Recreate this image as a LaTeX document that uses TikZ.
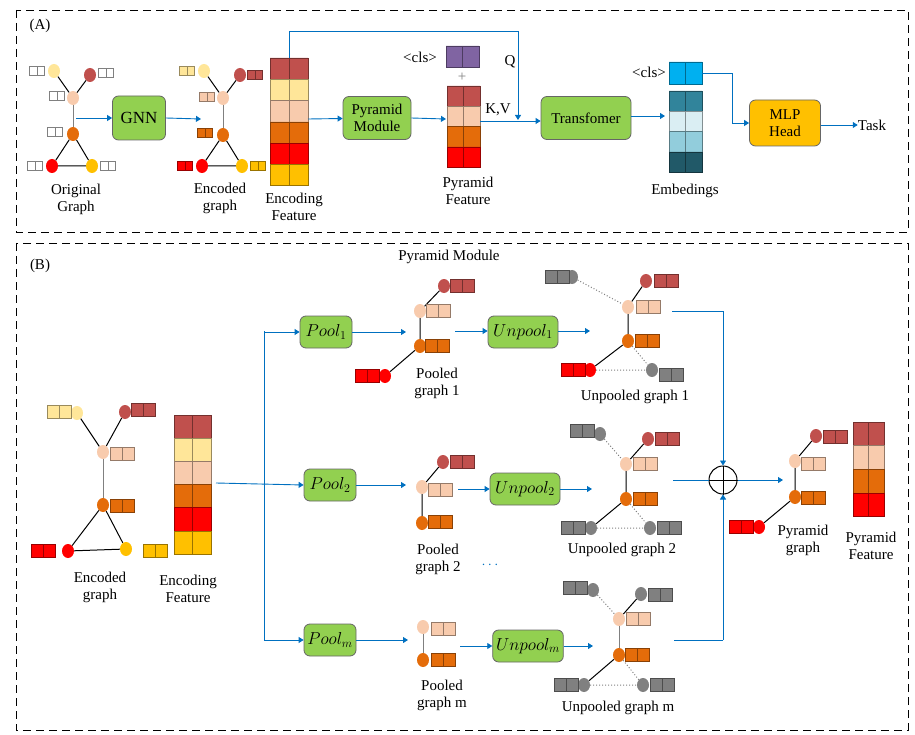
\documentclass[tikz,border=0pt]{standalone}
\usepackage{fontspec}
\setmainfont{Liberation Serif}
\usetikzlibrary{shapes.geometric,arrows.meta}
\definecolor{brk}{HTML}{C0504D}
\definecolor{lyl}{HTML}{FFE699}
\definecolor{pch}{HTML}{F8CBAD}
\definecolor{org}{HTML}{E46C0A}
\definecolor{rd}{HTML}{FF0000}
\definecolor{gld}{HTML}{FFC000}
\definecolor{gry}{HTML}{808080}
\definecolor{pur}{HTML}{8064A2}
\definecolor{cyn}{HTML}{00B0F0}
\definecolor{t1}{HTML}{31849B}
\definecolor{t2}{HTML}{DAEEF3}
\definecolor{t3}{HTML}{92CDDC}
\definecolor{t4}{HTML}{215968}
\definecolor{grn}{HTML}{92D050}
\definecolor{blu}{HTML}{0070C0}
\def\cw{7.5}\def\ch{4.5}
\newcommand\prr[3]{\begin{scope}[shift={(#1,#2)}]\filldraw[fill=#3,draw=#3!60!black,line width=0.8pt] (-\cw,-\ch) rectangle (0,\ch) (0,-\ch) rectangle (\cw,\ch);\end{scope}}
\newcommand\pre[2]{\begin{scope}[shift={(#1,#2)}]\filldraw[fill=white,draw=gray,line width=0.8pt] (-\cw,-\ch) rectangle (0,\ch) (0,-\ch) rectangle (\cw,\ch);\end{scope}}
\newcommand\fcol[5]{\foreach \c [count=\i from 0] in {#5}{\filldraw[fill=\c,draw=\c!60!black,line width=0.7pt] (#1,#2+\i*#4) rectangle ++(#3/2,#4) (#1+#3/2,#2+\i*#4) rectangle ++(#3/2,#4);}}
\begin{document}
\begin{tikzpicture}[x=1pt,y=-1pt,font=\fontsize{15}{17}\selectfont,
 vtx/.style={ellipse,minimum width=12pt,minimum height=14pt,inner sep=0pt,fill=#1},
 box/.style={draw=black!60,rounded corners=6pt,fill=grn,align=center,line width=0.8pt},
 arr/.style={-{Triangle[width=6pt,length=5pt]},blu,line width=0.9pt},
 ln/.style={blu,line width=0.9pt},
 ed/.style={line width=1pt},
 dt/.style={gray,dotted,line width=1pt},
 lbl/.style={align=center,inner sep=0pt}]
\useasboundingbox (0,0) rectangle (915,735);
\draw[dashed,line width=0.9pt,dash pattern=on 8pt off 5pt] (16,10) rectangle (908,232);
\draw[dashed,line width=0.9pt,dash pattern=on 8pt off 5pt] (16,243) rectangle (908,730);
\node[lbl] (la) at (40,26) {(A)};
\node[lbl] (lb) at (40,266) {(B)};
% ---------- A: original graph
\node[vtx=lyl] (o1) at (54,71) {}; \node[vtx=brk] (o2) at (90,75) {};
\node[vtx=pch] (o3) at (73,98) {}; \node[vtx=org] (o4) at (73,134) {};
\node[vtx=rd] (o5) at (52,166) {}; \node[vtx=gld] (o6) at (92,166) {};
\draw[ed] (o1)--(o3) (o2)--(o3) (o4)--(o5) (o4)--(o6) (o5)--(o6); \draw[ed,gray] (o3)--(o4);
\pre{37}{71}\pre{106}{73}\pre{57}{96}\pre{55}{132}\pre{35}{166}\pre{108}{166}
\node[lbl] (tog) at (76,199) {Original\\Graph};
\node[box,minimum width=53pt,minimum height=44pt,font=\fontsize{17}{19}\selectfont] (gnn) at (139,118) {GNN};
\coordinate (g0) at (76,118);
\draw[arr] (g0)--(gnn);
\coordinate (g1) at (201,119);
\draw[arr] (gnn.east)--(g1);
% encoded graph
\node[vtx=lyl] (e1) at (204,71) {}; \node[vtx=brk] (e2) at (240,75) {};
\node[vtx=pch] (e3) at (223,98) {}; \node[vtx=org] (e4) at (223,135) {};
\node[vtx=rd] (e5) at (202,166) {}; \node[vtx=gld] (e6) at (242,166) {};
\draw[ed] (e1)--(e3) (e2)--(e3) (e4)--(e5) (e4)--(e6) (e5)--(e6); \draw[ed,gray] (e3)--(e4);
\prr{187}{71}{lyl}\prr{255}{75}{brk}\prr{207}{97}{pch}\prr{205}{133}{org}\prr{185}{166}{rd}\prr{258}{166}{gld}
\node[lbl] (teg) at (220,198) {Encoded\\graph};
\fcol{270}{58}{38}{21.3}{brk,lyl,pch,org,rd,gld}
\coordinate (ef) at (308,119); \coordinate (eft) at (289,58);
\node[lbl] (tef) at (294,207) {Encoding\\Feature};
\node[box,minimum width=68pt,minimum height=43pt] (pm) at (377,118) {Pyramid\\Module};
\draw[arr] (ef)--(pm);
\coordinate (pf) at (446,119);
\draw[arr] (pm.east)--(pf);
\fcol{446}{46}{33}{21}{pur}
\node[lbl] (c1) at (420,57) {<cls>};
\node[lbl,gray] (plus) at (462,77) {+};
\fcol{447}{86}{33}{20.3}{brk,pch,org,rd}
\node[lbl] (tpf) at (468,191) {Pyramid\\Feature};
\node[lbl] (kv) at (498,110) {K,V};
\node[lbl] (q) at (510,62) {Q};
\node[box,minimum width=90pt,minimum height=43pt] (tr) at (586,118) {Transfomer};
\coordinate (pfe) at (480,121); \coordinate (qj) at (518,120);
\draw[arr] (pfe)--(pfe-|tr.west);
\draw[ln] (eft)--(289,31)--(518,31);
\draw[arr] (518,31)--(qj);
\coordinate (em) at (665,116);
\draw[arr] (tr.east|-em)--(em);
\fcol{669}{62}{33}{22}{cyn}
\node[lbl] (c2) at (649,72) {<cls>};
\fcol{669}{91}{33}{20.3}{t1,t2,t3,t4}
\node[lbl] (temb) at (685,191) {Embedings};
\node[box,fill=gld,minimum width=71pt,minimum height=46pt] (mlp) at (785,123) {MLP\\Head};
\coordinate (cl) at (702,73);
\draw[ln] (cl)--(732,73)--(732,123);
\draw[arr] (732,123)--(mlp.west);
\node[lbl] (task) at (872,125) {Task};
\draw[arr] (mlp.east|-task)--(task.west);
% ---------- B
\def\cw{12}\def\ch{6.5}
\node[lbl] (tpm) at (449,257) {Pyramid Module};
\node[vtx=lyl] (b1) at (77,413) {}; \node[vtx=brk] (b2) at (125,412) {};
\node[vtx=pch] (b3) at (103,452) {}; \node[vtx=org] (b4) at (103,505) {};
\node[vtx=rd] (b5) at (68,551) {}; \node[vtx=gld] (b6) at (126,549) {};
\draw[ed] (b1)--(b3) (b2)--(b3) (b4)--(b5) (b4)--(b6) (b5)--(b6); \draw[ed,gray] (b3)--(b4);
\prr{59}{412}{lyl}\prr{143}{410}{brk}\prr{122}{454}{pch}\prr{122}{506}{org}\prr{43}{551}{rd}\prr{155}{551}{gld}
\node[lbl] (tbe) at (100,587) {Encoded\\graph};
\fcol{174}{415}{37}{23.2}{brk,lyl,pch,org,rd,gld}
\node[lbl] (tbf) at (188,589) {Encoding\\Feature};
\node[box,minimum width=52pt,minimum height=32pt] (p1) at (326,332) {\LARGE$Pool_1$};
\node[box,minimum width=52pt,minimum height=32pt] (p2) at (330,485) {\LARGE$Pool_2$};
\node[box,minimum width=52pt,minimum height=32pt] (pmm) at (330,640) {\LARGE$Pool_m$};
\coordinate (bs) at (216,483);
\draw[arr] (bs)--(p2.west);
\draw[ln] (264,331)--(264,640);
\draw[arr] (264,332)--(p1.west); \draw[arr] (264,640)--(pmm.west);
\coordinate (a1) at (406,332); \coordinate (a2) at (406,485); \coordinate (a3) at (408,640);
\draw[arr] (p1.east)--(a1); \draw[arr] (p2.east)--(a2); \draw[arr] (pmm.east)--(a3);
% pooled 1
\node[vtx=brk] (q1) at (444,286) {}; \node[vtx=pch] (q2) at (420,311) {};
\node[vtx=org] (q3) at (420,346) {}; \node[vtx=rd] (q4) at (385,376) {};
\draw[ed] (q1)--(q2)--(q3)--(q4);
\prr{462}{286}{brk}\prr{438}{311}{pch}\prr{437}{346}{org}\prr{367}{376}{rd}
\node[lbl] (tq1) at (437,383) {Pooled\\graph 1};
% pooled 2
\node[vtx=brk] (r1) at (443,462) {}; \node[vtx=pch] (r2) at (422,487) {};
\node[vtx=org] (r3) at (422,523) {};
\draw[ed] (r1)--(r2)--(r3);
\prr{462}{462}{brk}\prr{440}{490}{pch}\prr{440}{522}{org}
\node[lbl] (tq2) at (438,559) {Pooled\\graph 2};
\node[lbl,blu,font=\Large\bfseries] (dots) at (490,565) {$\cdots$};
% pooled m
\node[vtx=pch] (s1) at (423,627) {}; \node[vtx=org] (s2) at (423,660) {};
\draw[ed,gray] (s1)--(s2);
\prr{443}{629}{pch}\prr{443}{660}{org}
\node[lbl] (tq3) at (442,695) {Pooled\\graph m};
% unpool boxes
\node[box,minimum width=70pt,minimum height=32pt] (u1) at (523,332) {\LARGE$Unpool_1$};
\node[box,minimum width=70pt,minimum height=32pt] (u2) at (525,489) {\LARGE$Unpool_2$};
\node[box,minimum width=70pt,minimum height=32pt] (um) at (528,646) {\LARGE$Unpool_m$};
\coordinate (d1) at (455,331); \coordinate (d2) at (458,489); \coordinate (d3) at (460,646);
\draw[arr] (d1)--(u1.west|-d1); \draw[arr] (d2)--(u2.west|-d2); \draw[arr] (d3)--(um.west|-d3);
\coordinate (f1) at (590,331); \coordinate (f2) at (592,489); \coordinate (f3) at (593,646);
\draw[arr] (u1.east|-f1)--(f1); \draw[arr] (u2.east|-f2)--(f2); \draw[arr] (um.east|-f3)--(f3);
% unpooled 1
\node[vtx=gry] (v1) at (572,277) {}; \node[vtx=brk] (v2) at (646,281) {};
\node[vtx=pch] (v3) at (628,307) {}; \node[vtx=org] (v4) at (628,341) {};
\node[vtx=rd] (v5) at (590,370) {}; \node[vtx=gry] (v6) at (652,370) {};
\draw[ed] (v2)--(v3)--(v4)--(v5); \draw[dt] (v1)--(v3) (v4)--(v6) (v5)--(v6);
\prr{557}{277}{gry}\prr{666}{281}{brk}\prr{648}{307}{pch}\prr{647}{341}{org}\prr{573}{370}{rd}\prr{671}{375}{gry}
\node[lbl] (tu1) at (635,397) {Unpooled graph 1};
% unpooled 2
\node[vtx=gry] (w1) at (600,434) {}; \node[vtx=brk] (w2) at (648,439) {};
\node[vtx=pch] (w3) at (626,464) {}; \node[vtx=org] (w4) at (626,499) {};
\node[vtx=gry] (w5) at (591,528) {}; \node[vtx=gry] (w6) at (650,528) {};
\draw[ed] (w2)--(w3)--(w4)--(w5); \draw[dt] (w1)--(w3) (w4)--(w6) (w5)--(w6);
\prr{582}{431}{gry}\prr{667}{439}{brk}\prr{645}{464}{pch}\prr{645}{499}{org}\prr{573}{528}{gry}\prr{669}{528}{gry}
\node[lbl] (tu2) at (622,550) {Unpooled graph 2};
% unpooled m
\node[vtx=gry] (x1) at (593,590) {}; \node[vtx=gry] (x2) at (641,594) {};
\node[vtx=pch] (x3) at (619,619) {}; \node[vtx=org] (x4) at (619,655) {};
\node[vtx=gry] (x5) at (584,685) {}; \node[vtx=gry] (x6) at (643,685) {};
\draw[ed] (x2)--(x3) (x4)--(x5); \draw[ed,gray] (x3)--(x4); \draw[dt] (x1)--(x3) (x4)--(x6) (x5)--(x6);
\prr{575}{588}{gry}\prr{660}{595}{gry}\prr{638}{619}{pch}\prr{637}{655}{org}\prr{566}{685}{gry}\prr{662}{685}{gry}
\node[lbl] (tum) at (618,708) {Unpooled graph m};
% merge
\node[circle,draw,line width=1pt,minimum size=28pt,inner sep=0pt] (op) at (723,480) {};
\draw[line width=1pt] (op.north)--(op.south) (op.west)--(op.east);
\coordinate (m1) at (672,311); \coordinate (m2) at (673,480); \coordinate (m3) at (674,640);
\draw[ln] (m1)--(723,311); \draw[arr] (723,311)--(op.north);
\draw[ln] (m3)--(723,640); \draw[arr] (723,640)--(op.south);
\draw[ln] (m2)--(op.west);
\coordinate (pg) at (783,480);
\draw[arr] (op.east)--(pg);
% pyramid graph
\node[vtx=brk] (y1) at (816,436) {}; \node[vtx=pch] (y2) at (795,461) {};
\node[vtx=org] (y3) at (795,497) {}; \node[vtx=rd] (y4) at (759,527) {};
\draw[ed] (y1)--(y2)--(y3)--(y4);
\prr{835}{437}{brk}\prr{813}{464}{pch}\prr{813}{498}{org}\prr{741}{527}{rd}
\node[lbl] (tpg) at (803,540) {Pyramid\\graph};
\fcol{853}{422}{31}{23.7}{brk,pch,org,rd}
\node[lbl] (tpf2) at (871,546) {Pyramid\\Feature};
\end{tikzpicture}
\end{document}
